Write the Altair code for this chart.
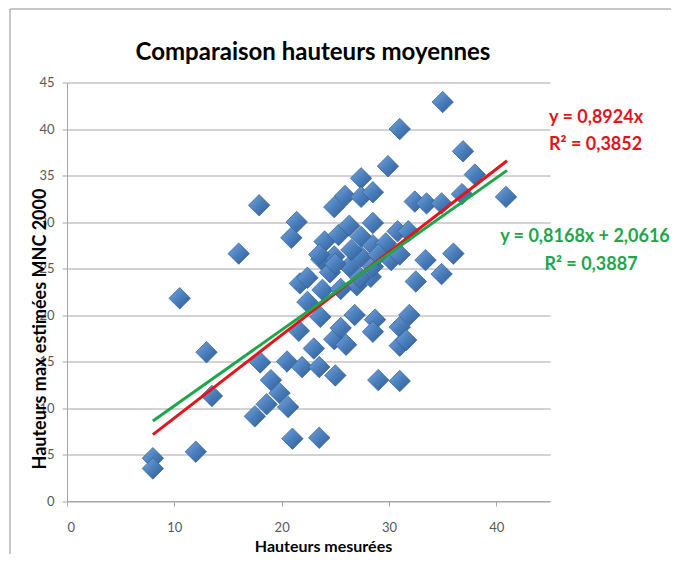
import altair as alt
import pandas as pd

# Hauteurs mesurées (x) et hauteurs max estimées MNC 2000 (y)
mesurees = [35.0, 31.0, 36.9, 29.9, 38.0, 27.4, 25.9, 24.9, 27.4, 28.5,
            32.4, 33.5, 34.9, 36.8, 40.9, 17.9, 21.4, 20.9, 16.0, 36.0,
            33.4, 34.9, 32.5, 10.5, 13.0, 13.5, 8.0, 8.0, 12.0, 17.5,
            18.0, 19.0, 18.6, 19.8, 20.6, 20.5, 21.9, 21.0, 23.5, 23.5,
            25.0, 23.0, 21.6, 24.9, 25.5, 26.0, 26.8, 28.7, 28.5, 29.0,
            31.0, 31.0, 31.0, 31.6, 31.9, 23.6, 22.4, 21.7, 22.4, 23.8,
            23.7, 24.0, 24.9, 24.5, 25.3, 26.3, 27.4, 28.5, 28.5, 27.4,
            26.3, 27.0, 28.3, 28.5, 29.7, 30.2, 31.0, 30.8, 31.8, 25.5,
            27.3, 23.5, 25.0, 26.5, 29.0]
estimees = [42.9, 40.0, 37.6, 36.0, 35.1, 34.7, 32.8, 31.6, 32.7, 33.2,
            32.2, 32.0, 32.0, 33.0, 32.7, 31.8, 30.0, 28.3, 26.6, 26.6,
            25.9, 24.4, 23.6, 21.8, 16.0, 11.3, 4.6, 3.5, 5.3, 9.1,
            14.9, 13.0, 10.4, 11.6, 10.1, 15.0, 14.4, 6.7, 6.8, 14.4,
            13.5, 16.4, 18.3, 17.4, 18.6, 16.8, 20.0, 19.5, 18.2, 13.0,
            12.9, 18.7, 16.7, 17.3, 20.0, 19.8, 21.4, 23.4, 24.0, 22.7,
            26.0, 27.9, 26.3, 24.6, 28.6, 29.6, 28.4, 29.9, 27.5, 26.3,
            25.2, 23.2, 24.1, 25.2, 27.7, 25.9, 26.5, 29.0, 29.0, 22.8,
            24.0, 26.5, 25.5, 27.0, 26.5]

# Courbes de tendance affichées
red_slope = 0.8924
green_slope = 0.8168
green_intercept = 2.0616
trend_x = [8, 41]

chart_title = "Comparaison hauteurs moyennes"
annotations = ["y = 0,8924x", "R\u00b2 = 0,3852", "y = 0,8168x + 2,0616", "R\u00b2 = 0,3887"]
x_ticks = [0, 10, 20, 30, 40]
y_ticks = [0, 5, 10, 15, 20, 25, 30, 35, 40, 45]

RED = "#E3151B"
GREEN = "#1FA64A"
FONT = "Lato"

points = pd.DataFrame({"x": mesurees, "y": estimees})
trend = pd.DataFrame({
    "x": trend_x + trend_x,
    "y": [red_slope * v for v in trend_x] + [green_slope * v + green_intercept for v in trend_x],
    "serie": ["rouge", "rouge", "verte", "verte"],
})
one = pd.DataFrame({"a": [0]})

xscale = alt.Scale(domain=[0, 45], nice=False, zero=True)
yscale = alt.Scale(domain=[0, 45], nice=False, zero=True)

xaxis = alt.Axis(values=x_ticks, grid=False, title="Hauteurs mesurées",
                 titleX=256, titleY=45, titleAlign="center", titleBaseline="middle",
                 titleFontSize=16, labelPadding=15)
yaxis = alt.Axis(values=y_ticks, grid=True, title="Hauteurs max estimées MNC 2000",
                 titleX=-27, titleY=246, titleAngle=270, titleAlign="center",
                 titleBaseline="middle", titleFontSize=18, labelPadding=8)

# cadre du graphique (bords gauche et haut visibles)
frame = alt.Chart(one).mark_rect(fillOpacity=0, fill="white", stroke="#8F8F8F", strokeWidth=1).encode(
    x=alt.value(-57), x2=alt.value(640), y=alt.value(-73.5), y2=alt.value(500))

diamond_fill = alt.LinearGradient(
    gradient="linear", x1=0, y1=0, x2=1, y2=1,
    stops=[alt.GradientStop(color="#79A6E0", offset=0),
           alt.GradientStop(color="#4A7EBB", offset=0.5),
           alt.GradientStop(color="#2C5A94", offset=1)])

pts = alt.Chart(points).mark_point(
    shape="diamond", filled=True, size=460, fill=diamond_fill,
    stroke="#2E5D96", strokeWidth=0.7, opacity=1
).encode(
    x=alt.X("x:Q", scale=xscale, axis=xaxis),
    y=alt.Y("y:Q", scale=yscale, axis=yaxis),
)

lines = alt.Chart(trend).mark_line(strokeWidth=3).encode(
    x=alt.X("x:Q", scale=xscale),
    y=alt.Y("y:Q", scale=yscale),
    color=alt.Color("serie:N", scale=alt.Scale(domain=["rouge", "verte"], range=[RED, GREEN]), legend=None),
    detail="serie:N",
)

def label(txt, px, py, col, align, size=18):
    return alt.Chart(one).mark_text(
        text=txt, color=col, font=FONT, fontSize=size, fontWeight="bold",
        align=align, baseline="middle"
    ).encode(x=alt.value(px), y=alt.value(py))

title = label(chart_title, 246, -29.5, "black", "center", 24)
t1 = label(annotations[0], 482, 35.5, RED, "left")
t2 = label(annotations[1], 482, 62.5, RED, "left")
t3 = label(annotations[2], 518, 154, GREEN, "center")
t4 = label(annotations[3], 524, 182.5, GREEN, "center")

chart = alt.layer(frame, pts, lines, title, t1, t2, t3, t4).properties(
    width=483, height=418.5,
    padding={"left": 59, "top": 74.5, "right": 121, "bottom": 53},
    autosize=alt.AutoSizeParams(type="none"),
    background="white",
).configure_view(stroke=None).configure_axis(
    labelFont=FONT, labelFontSize=13, labelColor="#595959",
    titleFont=FONT, titleFontWeight="bold", titleColor="black",
    domainColor="#A6A6A6", tickColor="#A6A6A6", gridColor="#A6A6A6",
    tickSize=5,
)

chart.save("out.html", embed_options={"renderer": "svg", "actions": False})
